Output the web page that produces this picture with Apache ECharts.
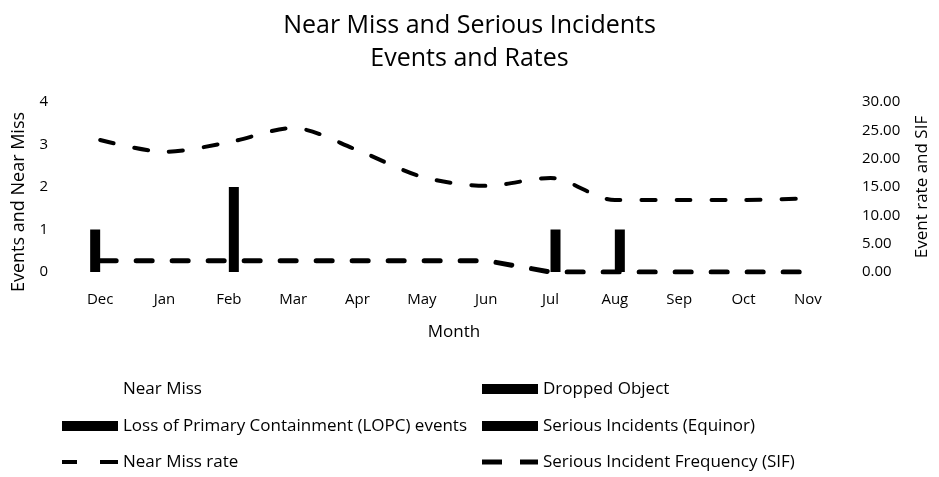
<!DOCTYPE html>
<html>
<head>
<meta charset="utf-8">
<script src="https://cdn.jsdelivr.net/npm/echarts@6/dist/echarts.min.js"></script>
<style>
  html, body { margin: 0; padding: 0; background: #fff; }
  #main { width: 939px; height: 477px; }
</style>
</head>
<body>
<div id="main"></div>
<script>
  // months on the x axis
  var months = ['Dec', 'Jan', 'Feb', 'Mar', 'Apr', 'May', 'Jun', 'Jul', 'Aug', 'Sep', 'Oct', 'Nov'];
  // event counts (left axis)
  var nearMiss = [0, 0, 0, 0, 0, 0, 0, 0, 0, 0, 0, 0];
  var droppedObject = [1, 0, 0, 0, 0, 0, 0, 0, 0, 0, 0, 0];
  var lopc = [0, 0, 2, 0, 0, 0, 0, 1, 1, 0, 0, 0];
  var seriousIncidents = [0, 0, 0, 0, 0, 0, 0, 0, 0, 0, 0, 0];
  // rates (right axis)
  var nearMissRate = [23.3, 21.2, 22.9, 25.4, 21.5, 16.8, 15.2, 16.6, 12.7, 12.7, 12.7, 13.0];
  var sif = [2.0, 2.0, 2.0, 2.0, 2.0, 2.0, 2.0, 0, 0, 0, 0, 0];
  // axis ticks
  var leftTicks = [0, 1, 2, 3, 4];
  var rightTicks = [0, 5, 10, 15, 20, 25, 30];

  var font = '"Open Sans", Lato, sans-serif';
  var chart = echarts.init(document.getElementById('main'));

  function bar(name, data, color) {
    return {
      name: name, type: 'bar', yAxisIndex: 0, data: data,
      barWidth: 10, barGap: '0%',
      itemStyle: { color: color }
    };
  }

  // one legend per entry so the 2x3 layout is exact
  function legendItem(name, left, top, icon, h) {
    return {
      left: left, top: top, padding: 0,
      itemWidth: 56, itemHeight: h || 10,
      icon: icon || 'rect',
      textStyle: { fontFamily: font, fontSize: 17, lineHeight: 20, color: '#000' },
      data: [{ name: name, icon: icon || 'rect' }]
    };
  }
  var nmrIcon = 'path://M0,0h15v4h-15z M38,0h18v4h-18z';
  var sifIcon = 'path://M0,0h20v5h-20z M38,0h18v5h-18z';

  chart.setOption({
    animation: false,
    textStyle: { fontFamily: font, color: '#000' },
    title: {
      text: 'Near Miss and Serious Incidents\nEvents and Rates',
      left: 'center', top: 4,
      textStyle: { fontFamily: font, fontSize: 25, fontWeight: 'normal', color: '#000', lineHeight: 33 }
    },
    grid: { left: 68, right: 98, top: 102, bottom: 205 },
    legend: [
      legendItem('Near Miss', 62, 379),
      legendItem('Loss of Primary Containment (LOPC) events', 62, 416),
      legendItem('Near Miss rate', 62, 452, nmrIcon, 4),
      legendItem('Dropped Object', 482, 379),
      legendItem('Serious Incidents (Equinor)', 482, 416),
      legendItem('Serious Incident Frequency (SIF)', 482, 452, sifIcon, 5)
    ],
    xAxis: {
      type: 'category', data: months,
      name: 'Month', nameLocation: 'middle', nameGap: 52,
      nameTextStyle: { fontFamily: font, fontSize: 17, color: '#000' },
      axisLine: { show: false }, axisTick: { show: false },
      axisLabel: { fontFamily: font, fontSize: 15, color: '#000', margin: 20 }
    },
    yAxis: [
      {
        type: 'value', min: leftTicks[0], max: leftTicks[leftTicks.length - 1], interval: 1,
        name: 'Events and Near Miss', nameLocation: 'middle', nameGap: 40,
        nameTextStyle: { fontFamily: font, fontSize: 18, color: '#000', padding: [0, 30, 0, 0] },
        splitLine: { show: false }, axisLine: { show: false }, axisTick: { show: false },
        axisLabel: { fontFamily: font, fontSize: 15, color: '#000', margin: 20 }
      },
      {
        type: 'value', min: rightTicks[0], max: rightTicks[rightTicks.length - 1], interval: 5,
        name: 'Event rate and SIF', nameLocation: 'middle', nameGap: 74,
        nameTextStyle: { fontFamily: font, fontSize: 17, color: '#000' },
        splitLine: { show: false }, axisLine: { show: false }, axisTick: { show: false },
        axisLabel: {
          fontFamily: font, fontSize: 15, color: '#000', margin: 22,
          formatter: function (v) { return v.toFixed(2); }
        }
      }
    ],
    series: [
      bar('Near Miss', nearMiss, '#ffffff'),
      bar('Dropped Object', droppedObject, '#000000'),
      bar('Loss of Primary Containment (LOPC) events', lopc, '#000000'),
      bar('Serious Incidents (Equinor)', seriousIncidents, '#000000'),
      {
        name: 'Near Miss rate', type: 'line', yAxisIndex: 1, data: nearMissRate,
        smooth: 0.3, symbol: 'none',
        itemStyle: { color: '#000' },
        lineStyle: { color: '#000', width: 4, type: [14, 21], cap: 'round' }
      },
      {
        name: 'Serious Incident Frequency (SIF)', type: 'line', yAxisIndex: 1, data: sif,
        symbol: 'none',
        itemStyle: { color: '#000' },
        lineStyle: { color: '#000', width: 5, type: [16, 20], cap: 'round' }
      }
    ]
  });
</script>
</body>
</html>
